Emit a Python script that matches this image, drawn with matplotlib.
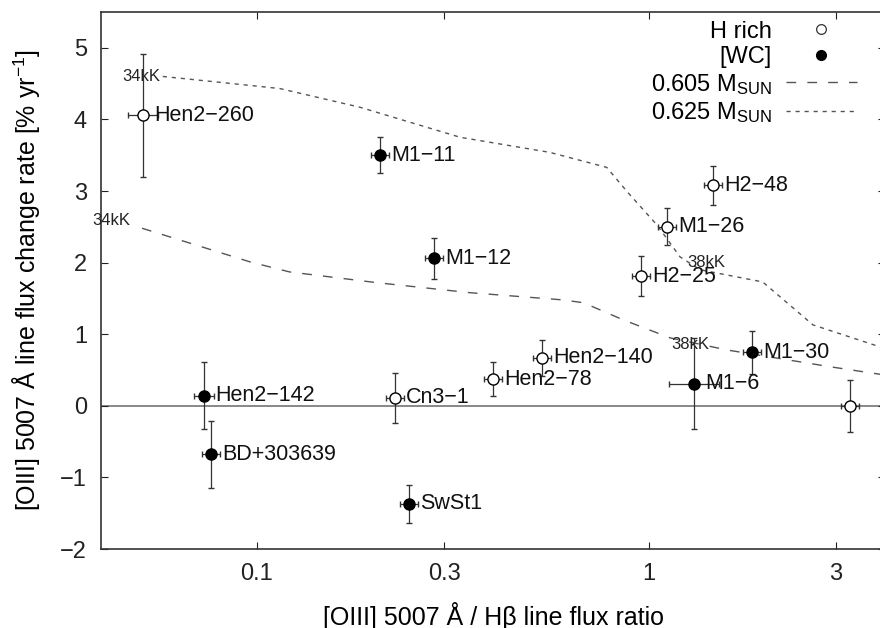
import numpy as np
import matplotlib
matplotlib.use("Agg")
import matplotlib.pyplot as plt
from matplotlib.lines import Line2D

plt.rcParams['font.family'] = ['Liberation Sans', 'DejaVu Sans']
plt.rcParams['mathtext.fontset'] = 'custom'
plt.rcParams['mathtext.rm'] = 'Liberation Sans'
plt.rcParams['mathtext.it'] = 'Liberation Sans:italic'

# observed nebulae
names = ["Hen2\u2212260", "M1\u221211", "M1\u221212", "H2\u221248", "M1\u221226", "H2\u221225",
         "Hen2\u2212142", "BD+303639", "Cn3\u22121", "SwSt1", "Hen2\u221278", "Hen2\u2212140",
         "M1\u22126", "M1\u221230", ""]
wc_star = [False, True, True, False, False, False,
           True, True, False, True, False, False,
           True, True, False]
ratio = [0.0511, 0.206, 0.283, 1.456, 1.11, 0.954,
         0.0733, 0.0763, 0.225, 0.244, 0.400, 0.533,
         1.30, 1.83, 3.26]
ratio_err_dex = [0.038, 0.023, 0.023, 0.023, 0.023, 0.023,
                 0.025, 0.024, 0.023, 0.023, 0.023, 0.023,
                 0.064, 0.023, 0.023]
rate = [4.06, 3.50, 2.06, 3.08, 2.50, 1.81,
        0.14, -0.68, 0.11, -1.37, 0.37, 0.67,
        0.31, 0.75, 0.00]
rate_err = [0.86, 0.25, 0.29, 0.27, 0.26, 0.28,
            0.47, 0.47, 0.35, 0.27, 0.24, 0.25,
            0.64, 0.30, 0.36]

# model tracks
m605_x = [0.0509, 0.096, 0.121, 0.202, 0.349, 0.60, 0.68, 0.86, 1.13, 1.58, 2.94, 4.0]
m605_y = [2.48, 2.01, 1.87, 1.72, 1.58, 1.48, 1.44, 1.20, 0.95, 0.78, 0.54, 0.43]
m625_x = [0.0575, 0.106, 0.1145, 0.183, 0.33, 0.558, 0.78, 0.883, 1.05, 1.20, 1.35, 1.95, 2.62, 4.0]
m625_y = [4.60, 4.45, 4.43, 4.17, 3.75, 3.54, 3.33, 2.98, 2.52, 2.08, 1.90, 1.73, 1.13, 0.80]

fig = plt.figure(figsize=(8.8, 6.28), dpi=100)
ax = fig.add_axes([101 / 880, 79 / 628, 784 / 880, 537 / 628])

ax.axhline(0, color='#888888', lw=1.4, zorder=1)

dash_col = '#555555'
ax.plot(m605_x, m605_y, color=dash_col, lw=1.0, dashes=(7, 8), zorder=2)
ax.plot(m625_x, m625_y, color=dash_col, lw=1.0, dashes=(3, 3.5), zorder=2)

kk = dict(fontsize=12, color='#222222', va='center')
ax.text(0.0566, 4.60, "34kK", ha='right', **kk)
ax.text(0.038, 2.59, "34kK", ha='left', **kk)
ax.text(1.25, 2.00, "38kK", ha='left', **kk)
ax.text(1.14, 0.85, "38kK", ha='left', **kk)

x = np.array(ratio)
xe = np.array(ratio_err_dex)
xerr = np.vstack([x - x * 10 ** (-xe), x * 10 ** xe - x])
y = np.array(rate)
ye = np.array(rate_err)
wc = np.array(wc_star)

for mask, face in [(~wc, 'white'), (wc, 'black')]:
    ax.errorbar(x[mask], y[mask], yerr=ye[mask], xerr=xerr[:, mask], fmt='o',
                ms=8, mfc=face, mec='black', mew=1.0, ecolor='#333333',
                elinewidth=0.9, capsize=2.2, capthick=0.9, zorder=3)

for xi, yi, name in zip(ratio, rate, names):
    if name:
        ax.annotate(name, (xi, yi), xytext=(8, 0), textcoords='offset points',
                    fontsize=15.5, va='center', ha='left', color='#111111')

ax.set_xscale('log')
ax.set_xlim(0.04, 4)
ax.set_ylim(-2, 5.5)
ax.set_xticks([0.1, 0.3, 1, 3])
ax.set_xticklabels(['0.1', '0.3', '1', '3'])
ax.xaxis.set_minor_locator(matplotlib.ticker.NullLocator())
ax.set_yticks(range(-2, 6))
ax.set_yticklabels([f"{v}".replace('-', '\u2212') for v in range(-2, 6)])
ax.tick_params(direction='in', length=5, width=0.8, pad=10, labelsize=17,
               top=True, right=True, colors='#222222')
for s in ax.spines.values():
    s.set_color('#333333')
    s.set_linewidth(1.2)

ax.set_xlabel("[OIII] 5007 \u00c5 / H\u03b2 line flux ratio", fontsize=18)
ax.set_ylabel("[OIII] 5007 \u00c5 line flux change rate [% yr$^{\u22121}$]", fontsize=18)
ax.xaxis.set_label_coords(0.5, -0.098)
ax.yaxis.set_label_coords(-0.075, 0.5)

handles = [
    Line2D([], [], ls='none', marker='o', ms=7, mfc='white', mec='#333333', mew=0.9),
    Line2D([], [], ls='none', marker='o', ms=7, mfc='black', mec='black'),
    Line2D([], [], color=dash_col, lw=1.0, dashes=(7, 8)),
    Line2D([], [], color=dash_col, lw=1.0, dashes=(3, 3.5)),
]
labels = ["H rich", "[WC]", "0.605 M$_{\\rm SUN}$", "0.625 M$_{\\rm SUN}$"]
ax.legend(handles, labels, loc='upper right', bbox_to_anchor=(0.964, 0.984),
          frameon=False, markerfirst=False, fontsize=17, handlelength=3.0,
          handletextpad=0.6, labelspacing=0.15, borderpad=0, borderaxespad=0)

fig.savefig("out.png", dpi=100)
